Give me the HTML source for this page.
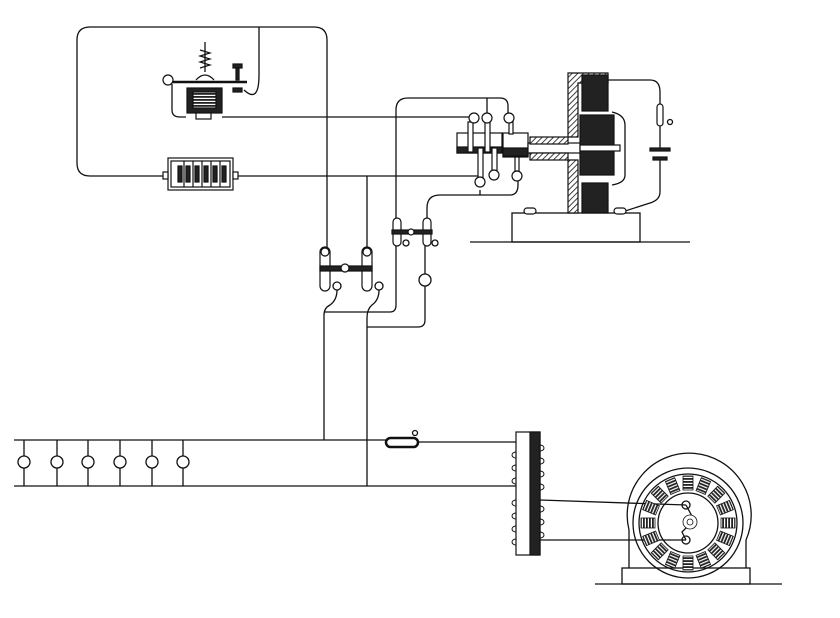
<!DOCTYPE html>
<html><head><meta charset="utf-8"><style>html,body{margin:0;padding:0;background:#fff}svg{display:block}</style></head>
<body>
<svg width="840" height="618" viewBox="0 0 840 618" xmlns="http://www.w3.org/2000/svg">
<defs>
<pattern id="h" width="4" height="4" patternUnits="userSpaceOnUse" patternTransform="rotate(45)"><rect width="4" height="4" fill="#fff"/><line x1="0" y1="0" x2="0" y2="4" stroke="#111" stroke-width="1.6"/></pattern>
<pattern id="s" width="3" height="3" patternUnits="userSpaceOnUse"><rect width="3" height="3" fill="#fff"/><rect width="3" height="1.8" fill="#222"/></pattern>
</defs>
<g fill="none" stroke="#111" stroke-width="1.3">
<path d="M165,176 H90 Q77,176 77,163 V40 Q77,27 90,27 H314 Q327,27 327,40 V248"/>
<path d="M259,27 V75 Q259,104 244,90"/>
<path d="M172,84 V110 Q172,117 180,117 H186"/>
<path d="M222,117 H476"/>
<line x1="168" y1="82" x2="247" y2="82" stroke-width="2.5"/>
<path d="M196,80 Q205,70 214,80"/>
<line x1="205" y1="42" x2="205" y2="72"/>
<path d="M200,50 L210,53 L200,56 L210,59 L200,62 L210,65 L200,68" stroke-width="1.2"/>
<path d="M233,176 H481"/>
<path d="M367,176 V248"/>
<path d="M337,290 Q337,300 330,305 Q324,308 324,315 V440"/>
<path d="M379,290 Q379,300 372,305 Q367,309 367,318 V486"/>
<path d="M324,312 H390 Q396,312 396,305 V110 Q396,98 408,98 H500 Q508,98 508,106 V117"/>
<path d="M487,98 V117"/>
<path d="M367,327 H418 Q425,327 425,320 V286"/>
<path d="M425,274 V245"/>
<path d="M397,218 V245"/>
<path d="M427,218 V208 Q427,195 440,195 H510 Q518,195 518,185 V180"/>
<path d="M480,190 V195"/>
<path d="M481,176 V185"/>
<path d="M14,440 H388"/>
<path d="M418,442 H516"/>
<path d="M14,486 H516"/>
<path d="M24,440 V456 M24,468 V486 M57,440 V456 M57,468 V486 M88,440 V456 M88,468 V486 M120,440 V456 M120,468 V486 M152,440 V456 M152,468 V486 M183,440 V456 M183,468 V486"/>
<circle cx="24" cy="462" r="6"/><circle cx="57" cy="462" r="6"/><circle cx="88" cy="462" r="6"/><circle cx="120" cy="462" r="6"/><circle cx="152" cy="462" r="6"/><circle cx="183" cy="462" r="6"/>
<circle cx="415" cy="433" r="2.5"/>
<circle cx="425" cy="280" r="6"/>
<circle cx="337" cy="286" r="4"/><circle cx="379" cy="286" r="4"/>
<circle cx="406" cy="243" r="3"/><circle cx="435" cy="243" r="3"/>
<path d="M608,80 H650 Q660,80 660,92 V105"/>
<path d="M660,125 V150 M660,158 V192 Q660,200 650,203 L622,212"/>
<path d="M612,112 Q625,115 625,125 V175 Q625,183 612,185"/>
<circle cx="670" cy="122" r="2.5"/>
<line x1="470" y1="242" x2="690" y2="242"/>
<line x1="595" y1="584" x2="782" y2="584"/>
<rect x="512" y="213" width="128" height="29"/>
<rect x="622" y="568" width="128" height="16"/>
<path d="M540,500 L686,505 M540,540 L686,540"/>
<path d="M629,568 V530 A62,62 0 1 1 746,540 V568"/>
<circle cx="688" cy="523" r="55"/>
<circle cx="688" cy="523" r="49"/>
<circle cx="688" cy="523" r="30"/>
<circle cx="686" cy="505" r="4"/><circle cx="686" cy="540" r="4"/>
<path d="M686,505 L694,520 L682,532 L686,540"/>
</g>
<g fill="url(#s)" stroke="#111" stroke-width="0.8">
<g transform="translate(688,523)">
<rect x="-5" y="-47" width="10" height="14" transform="rotate(0)"/>
<rect x="-5" y="-47" width="10" height="14" transform="rotate(22.5)"/>
<rect x="-5" y="-47" width="10" height="14" transform="rotate(45)"/>
<rect x="-5" y="-47" width="10" height="14" transform="rotate(67.5)"/>
<rect x="-5" y="-47" width="10" height="14" transform="rotate(90)"/>
<rect x="-5" y="-47" width="10" height="14" transform="rotate(112.5)"/>
<rect x="-5" y="-47" width="10" height="14" transform="rotate(135)"/>
<rect x="-5" y="-47" width="10" height="14" transform="rotate(157.5)"/>
<rect x="-5" y="-47" width="10" height="14" transform="rotate(180)"/>
<rect x="-5" y="-47" width="10" height="14" transform="rotate(202.5)"/>
<rect x="-5" y="-47" width="10" height="14" transform="rotate(225)"/>
<rect x="-5" y="-47" width="10" height="14" transform="rotate(247.5)"/>
<rect x="-5" y="-47" width="10" height="14" transform="rotate(270)"/>
<rect x="-5" y="-47" width="10" height="14" transform="rotate(292.5)"/>
<rect x="-5" y="-47" width="10" height="14" transform="rotate(315)"/>
<rect x="-5" y="-47" width="10" height="14" transform="rotate(337.5)"/>
</g>
<circle cx="690" cy="522" r="7" fill="#fff"/>
<circle cx="690" cy="522" r="3" fill="#fff"/>
</g>
<g stroke="#111" stroke-width="1.2">
<circle cx="168" cy="80" r="5" fill="#fff"/>
<rect x="187" y="88" width="35" height="25" fill="#222"/>
<rect x="193" y="92" width="23" height="16" fill="url(#s)"/>
<rect x="196" y="113" width="15" height="6" fill="#fff"/>
<rect x="233" y="64" width="9" height="4" fill="#222"/>
<rect x="236" y="68" width="3" height="12" fill="#222"/>
<rect x="233" y="88" width="9" height="4" fill="#222"/>
<rect x="168" y="158" width="65" height="32" fill="#fff"/>
<rect x="171" y="161" width="59" height="26" fill="#fff"/>
<rect x="163" y="172" width="5" height="7" fill="#fff"/>
<rect x="233" y="172" width="5" height="7" fill="#fff"/>
<rect x="178" y="166" width="4" height="16" fill="#222"/>
<rect x="186" y="166" width="4" height="16" fill="#222"/>
<rect x="195" y="166" width="4" height="16" fill="#222"/>
<rect x="204" y="166" width="4" height="16" fill="#222"/>
<rect x="213" y="166" width="4" height="16" fill="#222"/>
<rect x="222" y="166" width="4" height="16" fill="#222"/>
<line x1="184" y1="161" x2="184" y2="187"/><line x1="193" y1="161" x2="193" y2="187"/><line x1="202" y1="161" x2="202" y2="187"/><line x1="211" y1="161" x2="211" y2="187"/><line x1="220" y1="161" x2="220" y2="187"/>
<rect x="320" y="247" width="10" height="44" rx="5" fill="#fff"/>
<rect x="362" y="247" width="10" height="44" rx="5" fill="#fff"/>
<circle cx="325" cy="252" r="4" fill="#fff"/><circle cx="367" cy="252" r="4" fill="#fff"/>
<rect x="320" y="266" width="52" height="5" fill="#222"/>
<circle cx="345" cy="268" r="4" fill="#fff"/>
<rect x="393" y="218" width="8" height="28" rx="4" fill="#fff"/>
<rect x="423" y="218" width="8" height="28" rx="4" fill="#fff"/>
<rect x="392" y="230" width="40" height="4" fill="#222"/>
<circle cx="411" cy="232" r="3" fill="#fff"/>
<rect x="386" y="438" width="32" height="9" rx="4.5" fill="#fff" stroke-width="2.5"/>
<rect x="457" y="133" width="45" height="20" fill="#fff"/>
<rect x="457" y="147" width="45" height="6" fill="#222"/>
<rect x="503" y="133" width="25" height="24" fill="#fff"/>
<rect x="503" y="148" width="25" height="8" fill="#222"/>
<rect x="468" y="122" width="5" height="30" fill="#fff"/>
<circle cx="474" cy="118" r="5" fill="#fff"/>
<rect x="485" y="122" width="5" height="30" fill="#fff"/>
<circle cx="487" cy="118" r="5" fill="#fff"/>
<rect x="509" y="122" width="4" height="12" fill="#fff"/>
<circle cx="509" cy="118" r="5" fill="#fff"/>
<rect x="478" y="148" width="5" height="30" fill="#fff"/>
<circle cx="480" cy="182" r="5" fill="#fff"/>
<rect x="492" y="148" width="5" height="24" fill="#fff"/>
<circle cx="494" cy="175" r="5" fill="#fff"/>
<rect x="515" y="157" width="4" height="14" fill="#fff"/>
<circle cx="517" cy="176" r="5" fill="#fff"/>
<rect x="528" y="143" width="70" height="10" fill="#fff"/>
<path d="M568,73 H608 V83 H578 V137 H568 Z" fill="url(#h)"/>
<path d="M568,160 H578 V213 H568 Z" fill="url(#h)"/>
<rect x="530" y="137" width="38" height="7" fill="url(#h)"/>
<rect x="530" y="153" width="38" height="7" fill="url(#h)"/>
<rect x="582" y="75" width="26" height="36" fill="#222"/>
<rect x="580" y="115" width="34" height="60" fill="#222"/>
<rect x="582" y="183" width="26" height="30" fill="#222"/>
<rect x="580" y="145" width="40" height="6" fill="#fff"/>
<rect x="524" y="208" width="12" height="6" rx="3" fill="#fff"/>
<rect x="614" y="208" width="12" height="6" rx="3" fill="#fff"/>
<rect x="657" y="104" width="6" height="22" rx="3" fill="#fff"/>
<rect x="650" y="148" width="20" height="3" fill="#222"/>
<rect x="653" y="157" width="14" height="3" fill="#222"/>
<rect x="516" y="432" width="24" height="123" fill="#fff"/>
<rect x="530" y="432" width="10" height="123" fill="#222"/>
</g>
<g fill="none" stroke="#111" stroke-width="1">
<path d="M516,452 a4,3 0 0 0 0,6 M516,465 a4,3 0 0 0 0,6 M516,478 a4,3 0 0 0 0,6 M516,500 a4,3 0 0 0 0,6 M516,513 a4,3 0 0 0 0,6 M516,526 a4,3 0 0 0 0,6 M516,539 a4,3 0 0 0 0,6"/>
<path d="M540,445 a4,3 0 0 1 0,6 M540,458 a4,3 0 0 1 0,6 M540,471 a4,3 0 0 1 0,6 M540,484 a4,3 0 0 1 0,6 M540,506 a4,3 0 0 1 0,6 M540,519 a4,3 0 0 1 0,6 M540,532 a4,3 0 0 1 0,6"/>
</g>
</svg>
</body></html>
